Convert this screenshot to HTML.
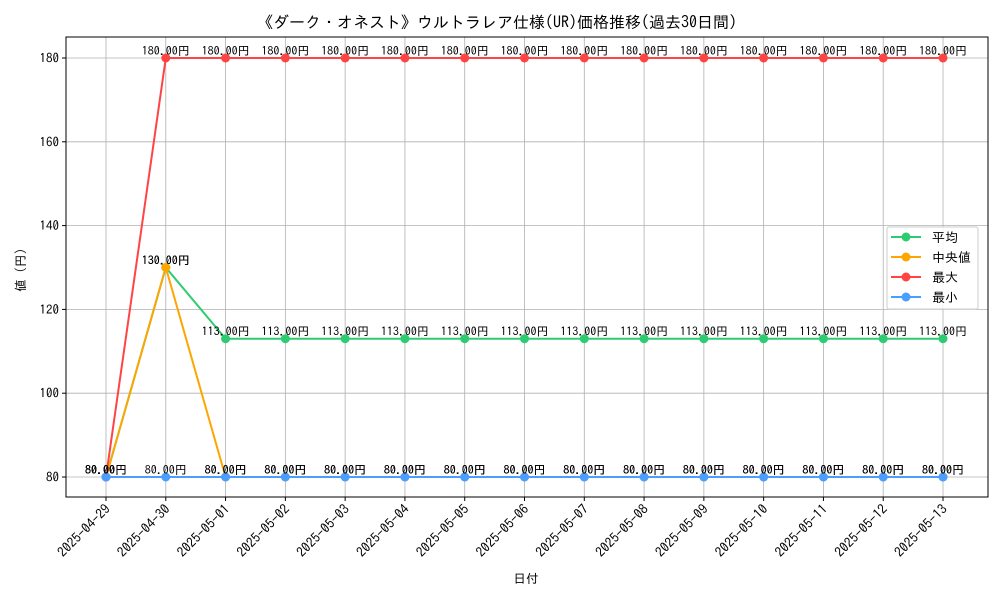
<!DOCTYPE html>
<html><head><meta charset="utf-8"><style>
body{margin:0;background:#fff}
svg text{font-family:"IPAGothic","Liberation Sans","Noto Sans CJK JP",sans-serif;fill:#000}
</style></head><body>
<svg id="c" width="1000" height="600" viewBox="0 0 1000 600" xmlns="http://www.w3.org/2000/svg">
<text x="497" y="28" text-anchor="middle" font-size="16">《ダーク・オネスト》ウルトラレア仕様(UR)価格推移(過去30日間)</text>
<g id="grid"></g><g id="axes"></g><g id="series"></g><g id="labels"></g>
<text x="526" y="583" text-anchor="middle" font-size="12.5">日付</text>
<text transform="translate(25,270) rotate(-90)" text-anchor="middle" font-size="12.5">値 (円)</text>
<g id="legend"></g>
</svg>
<script>
const categories=["2025-04-29","2025-04-30","2025-05-01","2025-05-02","2025-05-03","2025-05-04","2025-05-05","2025-05-06","2025-05-07","2025-05-08","2025-05-09","2025-05-10","2025-05-11","2025-05-12","2025-05-13"];
const avgValues=[80,130,113,113,113,113,113,113,113,113,113,113,113,113,113];
const medianValues=[80,130,80,80,80,80,80,80,80,80,80,80,80,80,80];
const maxValues=[80,180,180,180,180,180,180,180,180,180,180,180,180,180,180];
const minValues=[80,80,80,80,80,80,80,80,80,80,80,80,80,80,80];
const yTicks=[80,100,120,140,160,180];
const seriesNames=["平均","中央値","最大","最小"];
const NS="http://www.w3.org/2000/svg";
const L=66,R=988,T=37,B=497;
const x=i=>106+i*(943-106)/(categories.length-1);
const y=v=>477-(v-80)*(477-58)/100;
function mk(t,a,p){const e=document.createElementNS(NS,t);for(const k in a)e.setAttribute(k,a[k]);p.appendChild(e);return e;}
const g=document.getElementById('grid'),ax=document.getElementById('axes'),sg=document.getElementById('series'),lg=document.getElementById('labels');
categories.forEach((c,i)=>{
 const l=mk('line',{x1:x(i),x2:x(i),y1:T,y2:B,stroke:'#b0b0b0','stroke-width':0.8},g);
 
 mk('line',{x1:x(i),x2:x(i),y1:B,y2:B+4,stroke:'#000'},ax);
 const t=mk('text',{x:x(i)+5,y:B+13,'font-size':13.5,'text-anchor':'end',transform:`rotate(-45 ${x(i)+5} ${B+13})`},ax);
 t.textContent=c;
});
yTicks.forEach(v=>{
 const l=mk('line',{x1:L,x2:R,y1:y(v),y2:y(v),stroke:'#b0b0b0','stroke-width':0.8},g);
 
 mk('line',{x1:L-4,x2:L,y1:y(v),y2:y(v),stroke:'#000'},ax);
 const t=mk('text',{x:L-7,y:y(v)+4.5,'font-size':13,'text-anchor':'end'},ax);
 t.textContent=v;
});
const fr=mk('rect',{x:L,y:T,width:R-L,height:B-T,fill:'none',stroke:'#000','stroke-width':1},ax);

const data=[[avgValues,'#2ecc71','avg'],[medianValues,'#ffa500','median'],[maxValues,'#ff4444','max'],[minValues,'#4a9eff','min']];
data.forEach(([vals,col,nm])=>{
 const p=mk('polyline',{points:vals.map((v,i)=>x(i)+','+y(v)).join(' '),fill:'none',stroke:col,'stroke-width':2},sg);
 
 vals.forEach((v,i)=>{
  const c=mk('circle',{cx:x(i),cy:y(v),r:4.5,fill:col},sg);
  
  const t=mk('text',{x:x(i),y:y(v)-3,'font-size':12,'text-anchor':'middle'},lg);
  t.textContent=v.toFixed(2)+'円';
 });
});
const leg=document.getElementById('legend');
mk('rect',{x:887,y:227,width:91,height:82,rx:2,fill:'#fff','fill-opacity':0.85,stroke:'#ccc'},leg);
data.forEach(([v,col,nm],k)=>{
 const yy=237+k*20;
 const e=mk('g',{},leg);
 mk('line',{x1:891,x2:921,y1:yy,y2:yy,stroke:col,'stroke-width':2},e);
 mk('circle',{cx:906,cy:yy,r:4.5,fill:col},e);
 const t=mk('text',{x:932,y:yy+5,'font-size':13},e);t.textContent=seriesNames[k];
});
</script>
</body></html>
